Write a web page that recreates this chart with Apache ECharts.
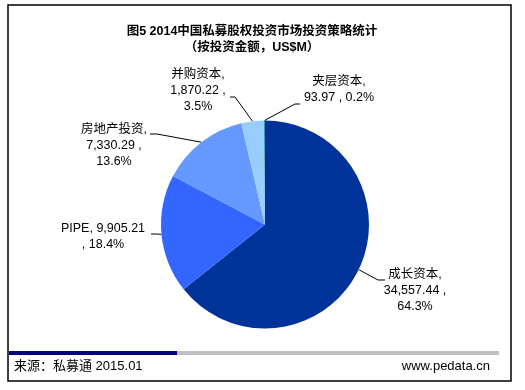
<!DOCTYPE html>
<html><head><meta charset="utf-8">
<script src="https://cdn.jsdelivr.net/npm/echarts@6/dist/echarts.min.js"></script>
<style>html,body{margin:0;padding:0;background:#fff}#c{width:525px;height:390px}</style>
</head><body><div id="c"></div>
<script>
// ---- data ----
var categories = ['成长资本', 'PIPE', '房地产投资', '并购资本', '夹层资本'];
var values = [34557.44, 9905.21, 7330.29, 1870.22, 93.97];
var titleLines = ['图5 2014中国私募股权投资市场投资策略统计', '（按投资金额，US$M）'];
var sourceText = '来源：私募通 2015.01';
var siteText = 'www.pedata.cn';

// ---- styles / layout ----
var colors = ['#003399', '#3366FF', '#6699FF', '#99CCFF', '#3A9AA8'];
var labelTemplates = ['{b},\n{c} ,\n{d}%', '{b}, {c}\n, {d}%', '{b},\n{c} ,\n{d}%', '{b},\n{c} ,\n{d}%', '{b},\n{c} , {d}%'];
var labelPos = [
  {x: 415, y: 291, line: [[378, 280], [385, 280]]},
  {x: 103, y: 237, line: [[156, 234], [151, 234]]},
  {x: 114, y: 146, line: [[157, 134], [150, 134]]},
  {x: 198, y: 91,  line: [[235, 97], [230, 97]]},
  {x: 339, y: 90,  line: [[295, 104], [300, 104]]}
];
var FONT = '"Liberation Sans", Arial, "Noto Sans CJK SC", sans-serif';

function fmt(v) {
  return v.toLocaleString('en-US', {minimumFractionDigits: 2, maximumFractionDigits: 2});
}

var chart = echarts.init(document.getElementById('c'), null, {renderer: 'canvas'});
var data = categories.map(function (n, i) {
  return {name: n, value: values[i], itemStyle: {color: colors[i]}};
});

chart.setOption({
  animation: false,
  backgroundColor: '#fff',
  graphic: [
    {type: 'rect', shape: {x: 8, y: 5, width: 503, height: 376}, style: {fill: 'none', stroke: '#000', lineWidth: 1.5}, z: 100},
    {type: 'rect', shape: {x: 9, y: 351, width: 168, height: 4}, style: {fill: '#000080'}},
    {type: 'rect', shape: {x: 177, y: 351, width: 322, height: 4}, style: {fill: '#C0C0C0'}},
    {type: 'text', x: 14, y: 366, style: {text: sourceText, font: '13px ' + FONT, fill: '#000', textAlign: 'left', textVerticalAlign: 'middle'}},
    {type: 'text', x: 490, y: 366, style: {text: siteText, font: '13px ' + FONT, fill: '#000', textAlign: 'right', textVerticalAlign: 'middle'}},
    {type: 'text', x: 252, y: 31.5, style: {text: titleLines[0], font: 'bold 12.5px ' + FONT, fill: '#000', textAlign: 'center', textVerticalAlign: 'middle'}},
    {type: 'text', x: 252, y: 47.5, style: {text: titleLines[1], font: 'bold 12.5px ' + FONT, fill: '#000', textAlign: 'center', textVerticalAlign: 'middle'}}
  ],
  series: [{
    type: 'pie',
    center: [265, 224.5],
    radius: 104,
    startAngle: 90,
    clockwise: true,
    avoidLabelOverlap: false,
    percentPrecision: 1,
    data: data,
    itemStyle: {borderWidth: 0},
    label: {
      show: true,
      position: 'outside',
      color: '#000',
      fontSize: 12.5,
      fontFamily: FONT,
      lineHeight: 16,
      align: 'center',
      formatter: function (p) {
        return labelTemplates[p.dataIndex]
          .replace('{b}', p.name)
          .replace('{c}', fmt(p.value))
          .replace('{d}', p.percent.toFixed(1));
      }
    },
    labelLine: {show: true, length: 10, length2: 10, lineStyle: {color: '#000', width: 1}},
    labelLayout: function (params) {
      var L = labelPos[params.dataIndex];
      var pts = params.labelLinePoints;
      var start = pts && pts.length ? pts[0] : L.line[0];
      return {
        x: L.x, y: L.y, align: 'center', verticalAlign: 'middle',
        labelLinePoints: [start, L.line[0], L.line[1]]
      };
    }
  }]
});
</script></body></html>
